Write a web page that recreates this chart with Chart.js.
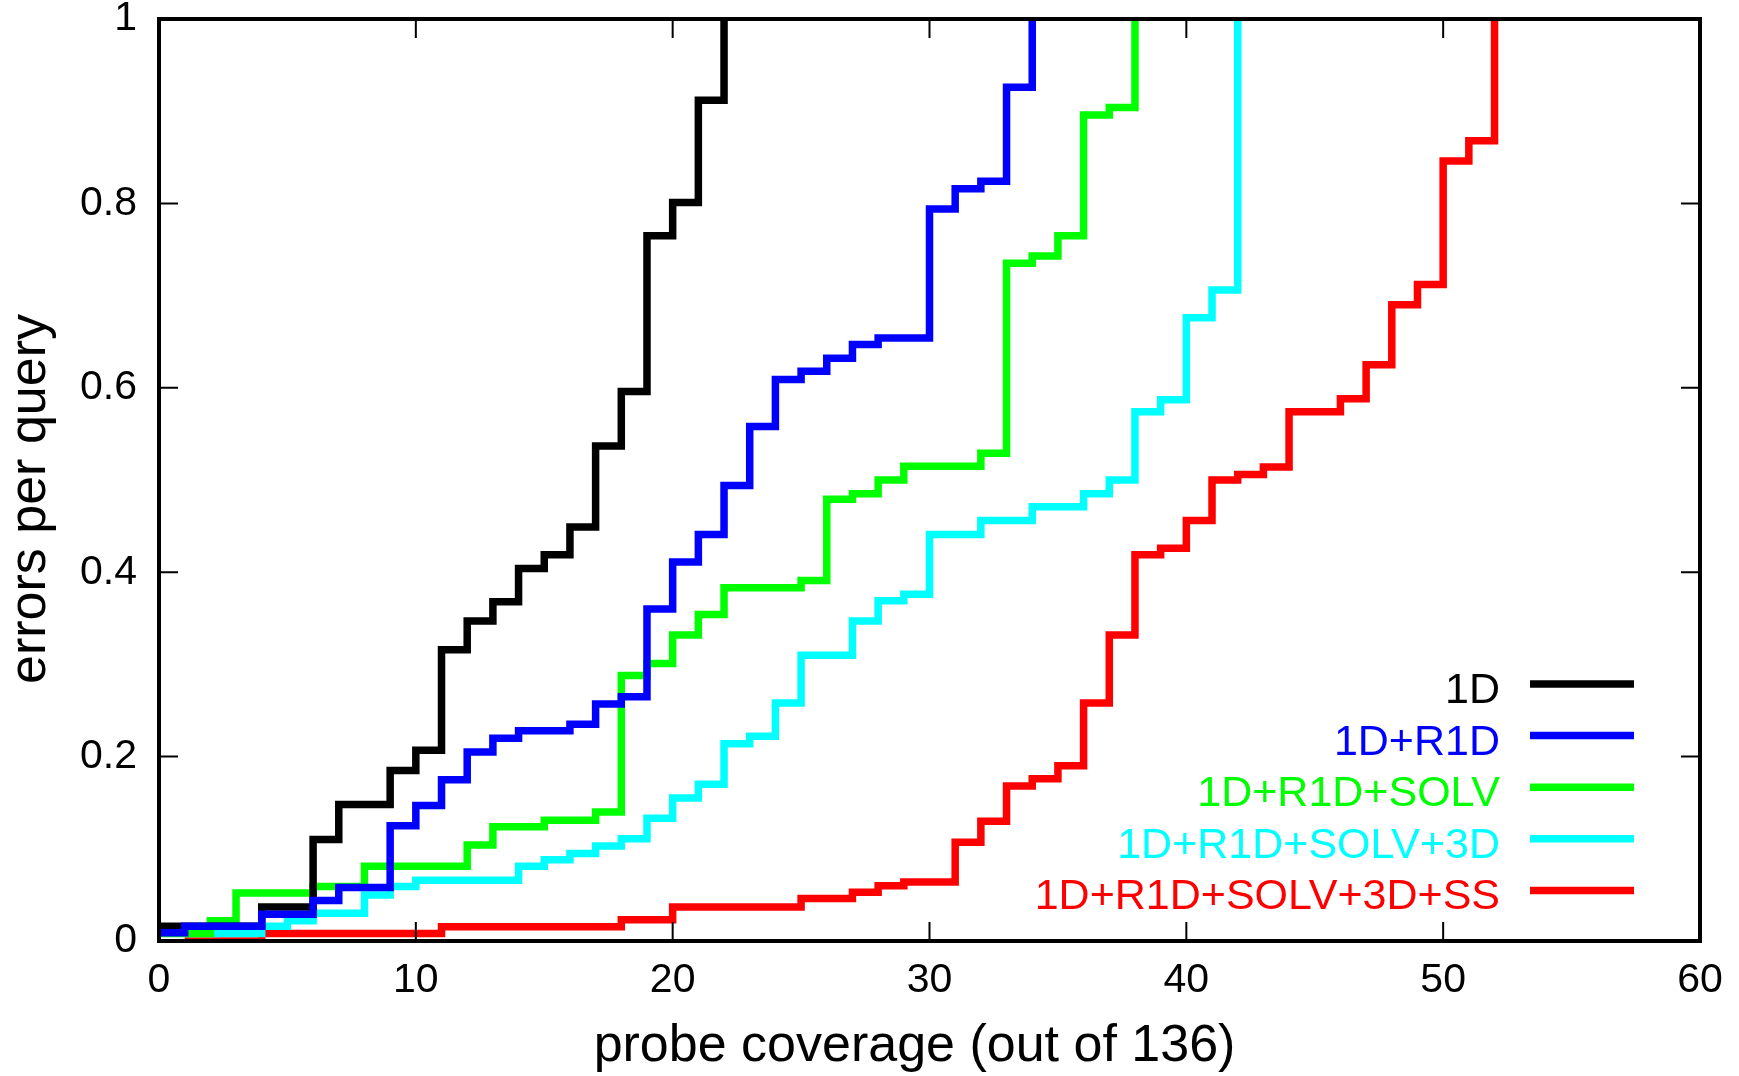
<!DOCTYPE html>
<html>
<head>
<meta charset="utf-8">
<script src="https://cdn.jsdelivr.net/npm/chart.js@4"></script>
<style>
  html, body { margin: 0; padding: 0; background: #fff; }
  #wrap { width: 1739px; height: 1076px; }
</style>
</head>
<body>
<div id="wrap"><canvas id="myChart" width="1739" height="1076"></canvas></div>
<script>
// series labels and colours
const labels = ['1D', '1D+R1D', '1D+R1D+SOLV', '1D+R1D+SOLV+3D', '1D+R1D+SOLV+3D+SS'];
const colors = ['#000000', '#0000ff', '#00ff00', '#00ffff', '#ff0000'];

// step positions (probe coverage) and values (errors per query)
const x1D = [0, 4, 6, 7, 9, 10, 11, 12, 13, 14, 15, 16, 17, 18, 19, 20, 21, 22];
const y1D = [0.016, 0.037, 0.110, 0.148, 0.185, 0.207, 0.316, 0.347, 0.368, 0.404, 0.419, 0.449, 0.537, 0.596, 0.765, 0.801, 0.912, 1];

const xR1D = [0, 1, 4, 6, 7, 9, 10, 11, 12, 13, 14, 16, 17, 18, 19, 20, 21, 22, 23, 24, 25, 26, 27, 28, 30, 31, 32, 33, 34];
const yR1D = [0.009, 0.016, 0.029, 0.044, 0.058, 0.125, 0.147, 0.175, 0.205, 0.220, 0.228, 0.235, 0.257, 0.265, 0.360, 0.411, 0.441, 0.494, 0.558, 0.609, 0.618, 0.632, 0.647, 0.654, 0.794, 0.816, 0.824, 0.926, 1];

const xSOLV = [0, 2, 3, 6, 8, 12, 13, 15, 17, 18, 19, 20, 21, 22, 25, 26, 27, 28, 29, 32, 33, 34, 35, 36, 37, 38];
const ySOLV = [0.008, 0.022, 0.052, 0.059, 0.081, 0.104, 0.124, 0.131, 0.140, 0.288, 0.301, 0.332, 0.354, 0.383, 0.391, 0.479, 0.485, 0.500, 0.515, 0.529, 0.735, 0.743, 0.765, 0.896, 0.904, 1];

const x3D = [1, 4, 5, 6, 8, 9, 10, 14, 15, 16, 17, 18, 19, 20, 21, 22, 23, 24, 25, 27, 28, 29, 30, 32, 34, 36, 37, 38, 39, 40, 41, 42];
const y3D = [0.008, 0.016, 0.022, 0.030, 0.050, 0.059, 0.066, 0.081, 0.088, 0.095, 0.103, 0.111, 0.133, 0.155, 0.170, 0.214, 0.222, 0.258, 0.310, 0.347, 0.369, 0.376, 0.441, 0.456, 0.471, 0.485, 0.500, 0.574, 0.587, 0.676, 0.706, 1];

const xSS = [1, 4, 11, 18, 20, 25, 27, 28, 29, 31, 32, 33, 34, 35, 36, 37, 38, 39, 40, 41, 42, 43, 44, 46, 47, 48, 49, 50, 51, 52];
const ySS = [0, 0.008, 0.0155, 0.023, 0.037, 0.046, 0.053, 0.060, 0.064, 0.107, 0.130, 0.168, 0.176, 0.190, 0.258, 0.332, 0.419, 0.426, 0.456, 0.500, 0.506, 0.514, 0.574, 0.588, 0.625, 0.690, 0.712, 0.846, 0.868, 1];

const xTicks = [0, 10, 20, 30, 40, 50, 60];
const yTicks = [0, 0.2, 0.4, 0.6, 0.8, 1];
const yTickLabels = ['0', '0.2', '0.4', '0.6', '0.8', '1'];

const xTitle = 'probe coverage (out of 136)';
const yTitle = 'errors per query';

const seriesX = [x1D, xR1D, xSOLV, x3D, xSS];
const seriesY = [y1D, yR1D, ySOLV, y3D, ySS];
// which line lies on top (lower = on top)
const drawOrder = [1, 0, 2, 3, 4];

const FONT = "'Liberation Sans', Arial, sans-serif";

const frame = {
  id: 'frame',
  afterDatasetsDraw(chart) {
    const {ctx, chartArea: a, scales: {x, y}} = chart;
    ctx.save();
    ctx.strokeStyle = '#000';
    ctx.lineWidth = 2;
    ctx.beginPath();
    x.ticks.forEach(t => {
      const px = x.getPixelForValue(t.value);
      ctx.moveTo(px, a.bottom); ctx.lineTo(px, a.bottom - 19);
      ctx.moveTo(px, a.top); ctx.lineTo(px, a.top + 19);
    });
    y.ticks.forEach(t => {
      const py = y.getPixelForValue(t.value);
      ctx.moveTo(a.left, py); ctx.lineTo(a.left + 19, py);
      ctx.moveTo(a.right, py); ctx.lineTo(a.right - 19, py);
    });
    ctx.stroke();
    ctx.lineWidth = 4;
    ctx.strokeRect(a.left, a.top, a.right - a.left, a.bottom - a.top);

    // axis titles (sit a little off-centre in the original)
    ctx.fillStyle = '#000';
    ctx.font = '52px ' + FONT;
    ctx.textAlign = 'center';
    ctx.textBaseline = 'middle';
    ctx.fillText(xTitle, (a.left + a.right) / 2 - 15, 1047);
    ctx.save();
    ctx.translate(31, (a.top + a.bottom) / 2 + 19);
    ctx.rotate(-Math.PI / 2);
    ctx.fillText(yTitle, 0, 0);
    ctx.restore();

    // key, bottom right, text right-aligned before the sample line
    ctx.font = '43px ' + FONT;
    ctx.textAlign = 'right';
    ctx.textBaseline = 'alphabetic';
    chart.data.datasets.forEach((ds, i) => {
      const ly = a.bottom - 257 + i * 51.6;
      ctx.fillStyle = ds.borderColor;
      ctx.fillText(ds.label, a.right - 200, ly + 19);
      ctx.strokeStyle = ds.borderColor;
      ctx.lineWidth = 7.5;
      ctx.beginPath();
      ctx.moveTo(a.right - 170, ly);
      ctx.lineTo(a.right - 66, ly);
      ctx.stroke();
    });
    ctx.restore();
  }
};

const ctx = document.getElementById('myChart');

new Chart(ctx, {
  type: 'line',
  data: {
    datasets: labels.map((lab, i) => ({
      label: lab,
      data: seriesX[i].map((v, j) => ({x: v, y: seriesY[i][j]})),
      borderColor: colors[i],
      backgroundColor: colors[i],
      borderWidth: 7.5,
      stepped: 'before',
      pointRadius: 0,
      borderJoinStyle: 'miter',
      borderCapStyle: 'butt',
      fill: false,
      order: drawOrder[i]
    }))
  },
  options: {
    responsive: false,
    animation: false,
    devicePixelRatio: 1,
    layout: { autoPadding: false, padding: { top: 19, right: 39, left: 0, bottom: 0 } },
    plugins: {
      legend: { display: false },
      tooltip: { enabled: false }
    },
    scales: {
      x: {
        type: 'linear',
        min: 0,
        max: 60,
        afterBuildTicks: s => { s.ticks = xTicks.map(v => ({value: v})); },
        afterFit: s => { s.height = 135; s.paddingLeft = 0; s.paddingRight = 0; },
        grid: { display: false, drawTicks: false },
        border: { display: false },
        ticks: { color: '#000', font: { family: FONT, size: 41 }, padding: 15, maxRotation: 0 }
      },
      y: {
        type: 'linear',
        min: 0,
        max: 1,
        afterBuildTicks: s => { s.ticks = yTicks.map(v => ({value: v})); },
        afterFit: s => { s.width = 159; s.paddingTop = 0; s.paddingBottom = 0; },
        grid: { display: false, drawTicks: false },
        border: { display: false },
        ticks: {
          color: '#000',
          font: { family: FONT, size: 41 },
          padding: 22,
          callback: (v, i) => yTickLabels[i]
        }
      }
    }
  },
  plugins: [frame]
});
</script>
</body>
</html>
